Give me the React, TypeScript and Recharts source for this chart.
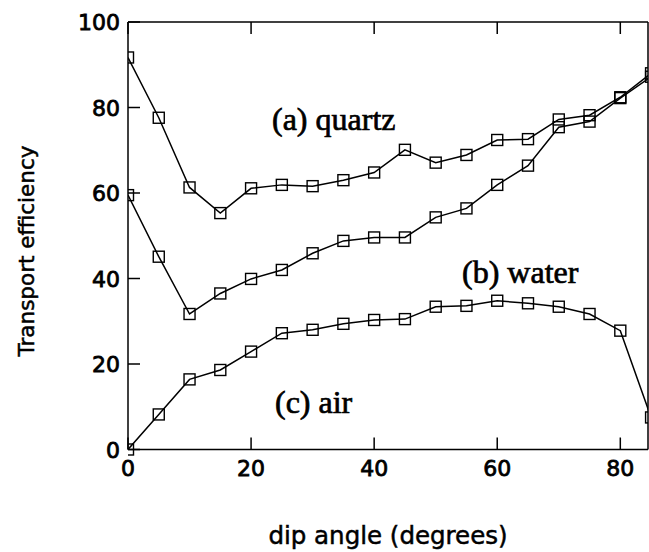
import React from "react";
import { LineChart, Line, XAxis, YAxis } from "recharts";

// dip angle in degrees
const ANGLES = [0, 5, 10, 15, 20, 25, 30, 35, 40, 45, 50, 55, 60, 65, 70, 75, 80, 85];

// transport efficiency for each carrier
const QUARTZ = [91.7, 77.6, 61.3, 55.3, 61.1, 61.9, 61.6, 63.0, 64.8, 70.1, 67.1, 68.9, 72.4, 72.6, 77.2, 78.2, 82.4, 88.0];
const WATER = [59.5, 45.1, 31.7, 36.5, 39.9, 42.0, 45.9, 48.8, 49.6, 49.6, 54.3, 56.4, 61.9, 66.4, 75.4, 76.7, 82.2, 87.2];
const AIR = [0, 8.2, 16.4, 18.6, 22.9, 27.2, 28.0, 29.4, 30.3, 30.5, 33.4, 33.6, 34.8, 34.2, 33.4, 31.7, 27.8, 7.5];

const X_TICKS = [0, 20, 40, 60, 80];
const Y_TICKS = [0, 20, 40, 60, 80, 100];

const data = ANGLES.map((angle, i) => ({
  angle,
  quartz: QUARTZ[i],
  water: WATER[i],
  air: AIR[i],
}));

const TICK_LEN = 12;
const SANS = "'DejaVu Sans', sans-serif";
const SERIF = "'Liberation Serif', 'Times New Roman', serif";
const AXIS_LINE = { stroke: "#000", strokeWidth: 1.5 };

const BottomTick = (props: any) => {
  const { x, y, payload } = props;
  return (
    <g>
      <line x1={x} x2={x} y1={y} y2={y - TICK_LEN} stroke="#000" strokeWidth={1.5} />
      <text x={x} y={y + 26} textAnchor="middle" fontFamily={SANS} fontSize={22} fill="#000" stroke="#000" strokeWidth={0.8}>
        {payload.value}
      </text>
    </g>
  );
};

const TopTick = (props: any) => {
  const { x, y } = props;
  return <line x1={x} x2={x} y1={y} y2={y + TICK_LEN} stroke="#000" strokeWidth={1.5} />;
};

const LeftTick = (props: any) => {
  const { x, y, payload } = props;
  return (
    <g>
      <line x1={x} x2={x + TICK_LEN} y1={y} y2={y} stroke="#000" strokeWidth={1.5} />
      <text x={x - 8} y={y + 8} textAnchor="end" fontFamily={SANS} fontSize={22} fill="#000" stroke="#000" strokeWidth={0.8}>
        {payload.value}
      </text>
    </g>
  );
};

const RightTick = (props: any) => {
  const { x, y } = props;
  return <line x1={x} x2={x - TICK_LEN} y1={y} y2={y} stroke="#000" strokeWidth={1.5} />;
};

const SquareDot = (props: any) => {
  const { cx, cy, index } = props;
  if (cx == null || cy == null) return null;
  return (
    <rect
      key={`sq-${index}`}
      x={cx - 5.5}
      y={cy - 5.5}
      width={11}
      height={11}
      fill="none"
      stroke="#000"
      strokeWidth={1.4}
    />
  );
};

export default function App() {
  return (
    <div
      style={{
        position: "absolute",
        left: 0,
        top: 0,
        width: 649,
        height: 552,
        overflow: "hidden",
        background: "#fff",
      }}
    >
      <LineChart
        width={649}
        height={552}
        data={data}
        margin={{ top: 21, right: 0, bottom: 101.5, left: 127 }}
      >
        <XAxis
          xAxisId="bottom"
          dataKey="angle"
          type="number"
          domain={[0, 84.5]}
          allowDataOverflow
          ticks={X_TICKS}
          height={1}
          tickSize={0}
          tickMargin={0}
          tickLine={false}
          tick={<BottomTick />}
          axisLine={AXIS_LINE}
        />
        <XAxis
          xAxisId="top"
          orientation="top"
          dataKey="angle"
          type="number"
          domain={[0, 84.5]}
          allowDataOverflow
          ticks={X_TICKS}
          height={1}
          tickSize={0}
          tickMargin={0}
          tickLine={false}
          tick={<TopTick />}
          axisLine={AXIS_LINE}
        />
        <YAxis
          yAxisId="left"
          type="number"
          domain={[0, 100]}
          ticks={Y_TICKS}
          width={1}
          tickSize={0}
          tickMargin={0}
          tickLine={false}
          tick={<LeftTick />}
          axisLine={AXIS_LINE}
        />
        <YAxis
          yAxisId="right"
          orientation="right"
          type="number"
          domain={[0, 100]}
          ticks={Y_TICKS}
          width={1}
          tickSize={0}
          tickMargin={0}
          tickLine={false}
          tick={<RightTick />}
          axisLine={AXIS_LINE}
        />

        {[
          ["quartz", "(a) quartz"],
          ["water", "(b) water"],
          ["air", "(c) air"],
        ].map(([key, name]) => (
          <Line
            key={key}
            xAxisId="bottom"
            yAxisId="left"
            dataKey={key}
            name={name}
            type="linear"
            stroke="#000"
            strokeWidth={1.5}
            dot={SquareDot}
            activeDot={false}
            isAnimationActive={false}
          />
        ))}

        <text x={272} y={130} fontFamily={SERIF} fontSize={32} fill="#000" stroke="#000" strokeWidth={0.7}>
          (a) quartz
        </text>
        <text x={462} y={283} fontFamily={SERIF} fontSize={32} fill="#000" stroke="#000" strokeWidth={0.7}>
          (b) water
        </text>
        <text x={275} y={413} fontFamily={SERIF} fontSize={32} fill="#000" stroke="#000" strokeWidth={0.7}>
          (c) air
        </text>

        <text
          x={388}
          y={544}
          textAnchor="middle"
          fontFamily={SANS}
          fontSize={24.5}
          fill="#000"
          stroke="#000"
          strokeWidth={0.5}
        >
          dip angle (degrees)
        </text>
        <text
          x={34}
          y={251}
          textAnchor="middle"
          fontFamily={SANS}
          fontSize={21.5}
          fill="#000"
          stroke="#000"
          strokeWidth={0.5}
          transform="rotate(-90 34 251)"
        >
          Transport efficiency
        </text>
      </LineChart>
    </div>
  );
}
